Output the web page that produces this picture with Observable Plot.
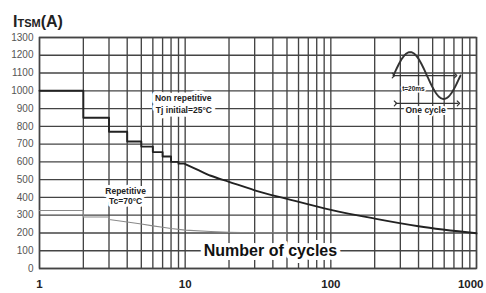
<!DOCTYPE html>
<html><head><meta charset="utf-8">
<script src="https://cdn.jsdelivr.net/npm/d3@7"></script>
<script src="https://cdn.jsdelivr.net/npm/@observablehq/plot@0.6"></script>
<style>body{margin:0;background:#fff} svg{display:block}</style>
</head><body><div id="chart"></div>
<script>
// ---- data ----
const xTickLabels = [1, 10, 100];
const xLastTick = [1000];
const yTicks = [0, 100, 200, 300, 400, 500, 600, 700, 800, 900, 1000, 1100, 1200, 1300];
const xGrid = [1,2,3,4,5,6,7,8,9,10,20,30,40,50,60,70,80,90,100,200,300,400,500,600,700,800,900,1000];

// Non repetitive, Tj initial = 25°C (stepped part)
const nonRepStepCycles  = [1, 2, 3, 4, 5, 6, 7, 8, 9, 10];
const nonRepStepCurrent = [1000, 848, 770, 715, 686, 655, 630, 600, 590, 590];
// Non repetitive (smooth part)
const nonRepCycles  = [10, 12, 15, 20, 30, 50, 100, 200, 400, 1000];
const nonRepCurrent = [588, 558, 522, 488, 440, 392, 330, 281, 238, 198];

// Repetitive, Tc = 70°C
const repCycles  = [1, 2, 2, 3, 3, 4, 5, 6, 7, 8, 10, 15, 20, 30, 50];
const repCurrent = [326, 326, 290, 290, 276, 262, 250, 240, 232, 225, 216, 208, 204, 201, 200];

const nonRepStep = nonRepStepCycles.map((c, i) => ({c, v: nonRepStepCurrent[i]}));
const nonRep = nonRepCycles.map((c, i) => ({c, v: nonRepCurrent[i]}));
const rep = repCycles.map((c, i) => ({c, v: repCurrent[i]}));

// inset pictogram (one sine cycle)
const insetStart = 269, insetEnd = 776, insetMid = 1086, insetAmp = 132;
const sine = d3.range(0, 61).map(i => {
  const t = i / 60;
  return {c: insetStart * Math.pow(insetEnd / insetStart, t), v: insetMid + insetAmp * Math.sin(2 * Math.PI * t)};
});

const gridColor = "#444";
const font = "Liberation Sans, Arial, sans-serif";

const plot = Plot.plot({
  width: 486,
  height: 293,
  marginLeft: 39,
  marginRight: 10,
  marginTop: 37,
  marginBottom: 25,
  style: {fontFamily: font, background: "#fff"},
  x: {type: "log", domain: [1, 1000], axis: null},
  y: {domain: [0, 1300], axis: null},
  marks: [
    Plot.ruleX(xGrid, {stroke: gridColor, strokeWidth: 1.35}),
    Plot.ruleY(yTicks, {stroke: gridColor, strokeWidth: 1.35}),
    Plot.frame({stroke: gridColor, strokeWidth: 1.5}),
    Plot.line(rep, {x: "c", y: "v", stroke: "#8a8a8a", strokeWidth: 1.1}),
    Plot.line(nonRepStep, {x: "c", y: "v", curve: "step-after", stroke: "#222", strokeWidth: 1.9}),
    Plot.line(nonRep, {x: "c", y: "v", curve: "monotone-x", stroke: "#222", strokeWidth: 1.9}),
    // y tick labels
    Plot.text(yTicks, {x: 1, y: d => d, text: d => String(d), textAnchor: "end", dx: -6,
      fontSize: 10, fill: "#555", letterSpacing: 0.3}),
    // x tick labels
    Plot.text(xTickLabels, {x: d => d, frameAnchor: "bottom", dy: 16, text: d => String(d),
      fontSize: 11.5, fontWeight: "bold", fill: "#222", lineAnchor: "middle"}),
    Plot.text(xLastTick, {x: d => d, frameAnchor: "bottom", dy: 16, dx: 7, textAnchor: "end", text: d => String(d),
      fontSize: 11.5, fontWeight: "bold", fill: "#222", lineAnchor: "middle"}),
    // annotations
    Plot.text(["Non repetitive"], {x: 9.7, y: 957, text: d => d, fontSize: 8.5, fontWeight: "bold",
      fill: "#222", stroke: "white", strokeWidth: 7, lineAnchor: "middle"}),
    Plot.text(["Tj initial=25°C"], {x: 9.8, y: 893, text: d => d, fontSize: 8.5, fontWeight: "bold",
      fill: "#222", stroke: "white", strokeWidth: 7, lineAnchor: "middle"}),
    Plot.text(["Repetitive"], {x: 3.9, y: 437, text: d => d, fontSize: 8.5, fontWeight: "bold",
      fill: "#222", stroke: "white", strokeWidth: 6, lineAnchor: "middle"}),
    Plot.text(["Tc=70°C"], {x: 3.9, y: 381, text: d => d, fontSize: 8.5, fontWeight: "bold",
      fill: "#222", stroke: "white", strokeWidth: 6, lineAnchor: "middle"}),
    Plot.text(["Number of cycles"], {x: 38.5, y: 100, text: d => d, fontSize: 16, fontWeight: "bold",
      fill: "#111", stroke: "white", strokeWidth: 8, lineAnchor: "middle"}),
    // inset pictogram
    Plot.line(sine, {x: "c", y: "v", stroke: "#333", strokeWidth: 1.9, curve: "linear"}),
    Plot.link([{x1: 269, x2: 718, y: 1086}], {x1: "x1", x2: "x2", y1: "y", y2: "y",
      stroke: "#333", strokeWidth: 1.2, markerStart: "arrow", markerEnd: "arrow"}),
    Plot.link([{x1: 278, x2: 752, y: 929}], {x1: "x1", x2: "x2", y1: "y", y2: "y",
      stroke: "#333", strokeWidth: 1.2, markerStart: "arrow", markerEnd: "arrow"}),
    Plot.text(["t=20ms"], {x: 369, y: 1013, text: d => d, fontSize: 6.5, fontWeight: "bold", fill: "#222",
      stroke: "white", strokeWidth: 3, lineAnchor: "middle"}),
    Plot.text(["One cycle"], {x: 447, y: 889, text: d => d, fontSize: 8.5, fontWeight: "bold", fill: "#222",
      stroke: "white", strokeWidth: 4, lineAnchor: "middle"})
  ]
});

// title "ITSM(A)"
const svg = d3.select(plot);
const title = svg.append("text")
  .attr("x", 38).attr("y", 27)
  .attr("font-family", font).attr("font-weight", "bold").attr("fill", "#222");
title.append("tspan").attr("font-size", 16).text("I");
title.append("tspan").attr("font-size", 11).text("TSM");
title.append("tspan").attr("font-size", 16).text("(A)");

document.getElementById("chart").appendChild(plot);
</script>
</body></html>
